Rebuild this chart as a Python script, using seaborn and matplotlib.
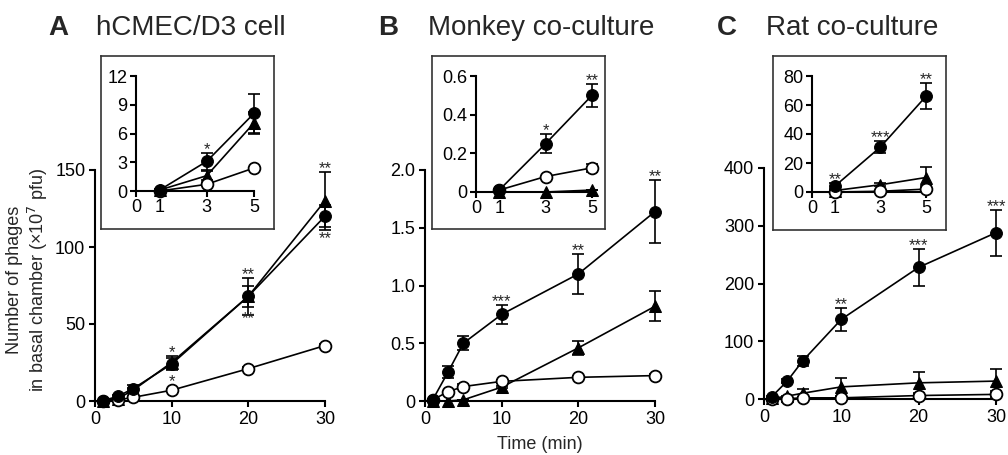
import matplotlib
matplotlib.use("Agg")
import matplotlib.pyplot as plt
import seaborn as sns

# time points (min)
time_main = [1, 3, 5, 10, 20, 30]
time_inset = [1, 3, 5]

# A: hCMEC/D3 cell
a_fill = [0.1, 3.1, 8.1, 24, 68, 120]
a_fill_err = [0.1, 0.9, 2.0, 4, 7, 7]
a_tri = [0.1, 1.6, 7.1, 25, 68, 130]
a_tri_err = [0.0, 0.5, 1.1, 4, 12, 19]
a_open = [0.0, 0.7, 2.4, 7, 21, 36]
a_open_err = [0, 0, 0, 0.5, 1, 1]
a_sig_top = ['', '', '', '*', '**', '**']
a_sig_bottom = ['', '', '', '*', '**', '**']
a_sig_inset = ['', '*', '']

# B: Monkey co-culture
b_fill = [0.01, 0.25, 0.50, 0.75, 1.10, 1.64]
b_fill_err = [0.005, 0.05, 0.06, 0.08, 0.17, 0.27]
b_tri = [0.0, 0.0, 0.01, 0.12, 0.46, 0.82]
b_tri_err = [0, 0, 0, 0.01, 0.06, 0.13]
b_open = [0.01, 0.08, 0.125, 0.17, 0.205, 0.22]
b_open_err = [0, 0, 0.02, 0.01, 0.01, 0.01]
b_sig_top = ['', '', '', '***', '**', '**']
b_sig_inset = ['', '*', '**']

# C: Rat co-culture
c_fill = [4, 31, 66, 138, 228, 288]
c_fill_err = [2, 4, 9, 20, 32, 40]
c_tri = [1, 5, 10, 21, 28, 31]
c_tri_err = [0.5, 1, 7, 15, 19, 21]
c_open = [0, 0.5, 2, 2, 6, 8]
c_open_err = [0, 0.5, 2, 2, 4, 5]
c_sig_top = ['', '', '', '**', '***', '***']
c_sig_inset = ['**', '***', '**']

sns.set_style("ticks")
plt.rcParams['font.family'] = ['Liberation Sans', 'DejaVu Sans']
plt.rcParams['axes.linewidth'] = 1.5
plt.rcParams['xtick.major.width'] = 1.5
plt.rcParams['ytick.major.width'] = 1.5
plt.rcParams['xtick.major.size'] = 4
plt.rcParams['ytick.major.size'] = 4
plt.rcParams['xtick.color'] = 'black'
plt.rcParams['ytick.color'] = 'black'
plt.rcParams['axes.edgecolor'] = 'black'

W, H = 1008, 455
fig = plt.figure(figsize=(W / 100, H / 100), dpi=100)


def rect(x0, x1, y0, y1):
    return [x0 / W, 1 - y1 / H, (x1 - x0) / W, (y1 - y0) / H]


def draw_series(ax, t, fill, fill_err, tri, tri_err, opn, opn_err):
    common = dict(color='black', linewidth=1.2, clip_on=False, ax=ax)
    ax.errorbar(t, tri, yerr=tri_err, fmt='none', ecolor='black', elinewidth=1.2,
                capsize=4, capthick=1.2, clip_on=False, zorder=2)
    sns.lineplot(x=t, y=tri, marker='^', markersize=8, markerfacecolor='black',
                 markeredgecolor='black', zorder=3, **common)
    ax.errorbar(t, opn, yerr=opn_err, fmt='none', ecolor='black', elinewidth=1.2,
                capsize=4, capthick=1.2, clip_on=False, zorder=4)
    sns.lineplot(x=t, y=opn, marker='o', markersize=8.5, markerfacecolor='white',
                 markeredgecolor='black', markeredgewidth=1.3, zorder=5, **common)
    ax.errorbar(t, fill, yerr=fill_err, fmt='none', ecolor='black', elinewidth=1.2,
                capsize=4, capthick=1.2, clip_on=False, zorder=6)
    sns.lineplot(x=t, y=fill, marker='o', markersize=8.5, markerfacecolor='black',
                 markeredgecolor='black', zorder=7, **common)


def stars(ax, t, vals, errs, labels, above=True, size=12):
    for x, v, e, s in zip(t, vals, errs, labels):
        if not s:
            continue
        if above:
            ax.annotate(s, (x, v + e), xytext=(0, -3), textcoords='offset points',
                        ha='center', va='bottom', fontsize=size)
        else:
            ax.annotate(s, (x, v - e), xytext=(0, -3), textcoords='offset points',
                        ha='center', va='top', fontsize=size)


def style_main(ax, ymax, yticks, yticklabels):
    ax.set_xlim(0, 30)
    ax.set_ylim(0, ymax)
    ax.set_xticks([0, 10, 20, 30])
    ax.set_yticks(yticks)
    ax.set_yticklabels(yticklabels)
    ax.tick_params(labelsize=13, pad=3)
    sns.despine(ax=ax)
    ax.set_xlabel('')
    ax.set_ylabel('')


def style_inset(ax, ymax, yticks, yticklabels):
    ax.set_xlim(0, 5)
    ax.set_ylim(0, ymax)
    ax.set_xticks([0, 1, 3, 5])
    ax.set_yticks(yticks)
    ax.set_yticklabels(yticklabels)
    ax.tick_params(labelsize=13, pad=2)
    ax.patch.set_alpha(0)
    sns.despine(ax=ax)
    ax.set_xlabel('')
    ax.set_ylabel('')


def box(x0, x1, y0, y1):
    b = fig.add_axes(rect(x0, x1, y0, y1))
    b.set_xticks([])
    b.set_yticks([])
    for sp in b.spines.values():
        sp.set_linewidth(1.2)
        sp.set_color('#333333')
    b.set_facecolor('white')
    return b


# ---- panel A
axA = fig.add_axes(rect(95, 325, 170, 401))
draw_series(axA, time_main, a_fill, a_fill_err, a_tri, a_tri_err, a_open, a_open_err)
style_main(axA, 150, [0, 50, 100, 150], ['0', '50', '100', '150'])
stars(axA, time_main, a_tri, a_tri_err, a_sig_top)
stars(axA, time_main, a_fill, a_fill_err, a_sig_bottom, above=False)
fig.text(28 / W, 1 - 280 / H, 'Number of phages\nin basal chamber (×10$^7$ pfu)',
         fontsize=13, rotation=90, ha='center', va='center', multialignment='center',
         linespacing=1.15)

box(101, 274, 56, 229)
inA = fig.add_axes(rect(136, 254, 76, 191))
draw_series(inA, time_inset, a_fill[:3], a_fill_err[:3], a_tri[:3], a_tri_err[:3],
            a_open[:3], a_open_err[:3])
style_inset(inA, 12, [0, 3, 6, 9, 12], ['0', '3', '6', '9', '12'])
stars(inA, time_inset, a_fill[:3], a_fill_err[:3], a_sig_inset)

# ---- panel B
axB = fig.add_axes(rect(425, 655, 170, 401))
draw_series(axB, time_main, b_fill, b_fill_err, b_tri, b_tri_err, b_open, b_open_err)
style_main(axB, 2.0, [0, 0.5, 1.0, 1.5, 2.0], ['0', '0.5', '1.0', '1.5', '2.0'])
stars(axB, time_main, b_fill, b_fill_err, b_sig_top)
axB.set_xlabel('Time (min)', fontsize=13, labelpad=6)

box(432, 605, 56, 229)
inB = fig.add_axes(rect(476, 592, 76, 192))
draw_series(inB, time_inset, b_fill[:3], b_fill_err[:3], b_tri[:3], b_tri_err[:3],
            b_open[:3], b_open_err[:3])
style_inset(inB, 0.6, [0, 0.2, 0.4, 0.6], ['0', '0.2', '0.4', '0.6'])
stars(inB, time_inset, b_fill[:3], b_fill_err[:3], b_sig_inset)

# ---- panel C
axC = fig.add_axes(rect(764, 996, 168, 399))
draw_series(axC, time_main, c_fill, c_fill_err, c_tri, c_tri_err, c_open, c_open_err)
style_main(axC, 400, [0, 100, 200, 300, 400], ['0', '100', '200', '300', '400'])
stars(axC, time_main, c_fill, c_fill_err, c_sig_top)

box(773, 946, 56, 230)
inC = fig.add_axes(rect(812, 926, 76, 192))
draw_series(inC, time_inset, c_fill[:3], c_fill_err[:3], c_tri[:3], c_tri_err[:3],
            c_open[:3], c_open_err[:3])
style_inset(inC, 80, [0, 20, 40, 60, 80], ['0', '20', '40', '60', '80'])
stars(inC, time_inset, c_fill[:3], c_fill_err[:3], c_sig_inset)

# ---- panel titles
for letter, lx, title, tx in [('A', 48, 'hCMEC/D3 cell', 96),
                              ('B', 378, 'Monkey co-culture', 428),
                              ('C', 717, 'Rat co-culture', 766)]:
    fig.text(lx / W, 1 - 35 / H, letter, fontsize=20, fontweight='bold', va='baseline')
    fig.text(tx / W, 1 - 35 / H, title, fontsize=20, va='baseline')

fig.savefig('out.png', dpi=100)
